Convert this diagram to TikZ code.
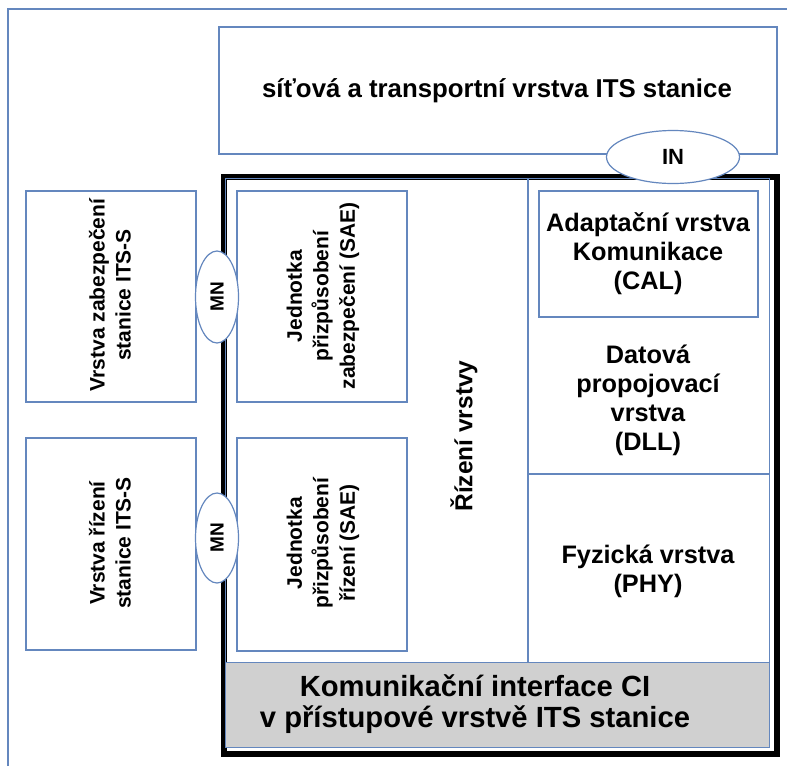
\documentclass[tikz,border=0pt]{standalone}
\usepackage{fontspec}
\setmainfont{Liberation Sans}
\usetikzlibrary{shapes.geometric}
\definecolor{lineblue}{RGB}{100,135,190}
\definecolor{bandgray}{RGB}{208,208,208}
\tikzset{
  box/.style={draw=lineblue, line width=1.2pt, fill=white, anchor=north west, inner sep=0pt, outer sep=0pt},
  txt/.style={align=center, inner sep=0pt},
  oval/.style={ellipse, draw=lineblue, line width=1.2pt, fill=white, inner sep=0pt},
}
\begin{document}
\begin{tikzpicture}[x=1pt,y=-1pt]
\useasboundingbox (0,0) rectangle (787,766);
% outer thin frame (cropped)
\coordinate (fa) at (8,766);
\coordinate (fb) at (8,9);
\coordinate (fc) at (787,9);
\draw[lineblue, line width=1.2pt] (fa) -- (fb) -- (fc);
% top box
\node[box, minimum width=558pt, minimum height=127pt] (top) at (219,27) {};
\node[txt, font=\bfseries\fontsize{25.8}{30}\selectfont] (toptxt) at (497,91) {síťová a transportní vrstva ITS stanice};
% thick frame
\node[draw=black, line width=6pt, anchor=north west, inner sep=0pt, minimum width=553pt, minimum height=576.5pt] (frame) at (221,174) {};
\node[draw=lineblue, line width=1.2pt, anchor=north west, inner sep=0pt, minimum width=544pt, minimum height=569pt] (inner) at (225,178) {};
% gray band
\node[draw=lineblue, line width=1.2pt, fill=bandgray, anchor=north west, inner sep=0pt, minimum width=544pt, minimum height=85pt] (band) at (225,662) {};
\node[txt, font=\bfseries\fontsize{29.2}{31}\selectfont] (bandtxt) at (475,704) {Komunikační interface CI\\v přístupové vrstvě ITS stanice};
% dividers
\coordinate (dvt) at (528,178);
\coordinate (dvb) at (528,662);
\draw[lineblue, line width=1.2pt] (dvt) -- (dvb);
\coordinate (hdl) at (528,474);
\coordinate (hdr) at (769,474);
\draw[lineblue, line width=1.2pt] (hdl) -- (hdr);
% CAL box
\node[box, minimum width=219pt, minimum height=126pt] (cal) at (539,191) {};
\node[txt, font=\bfseries\fontsize{25.3}{29}\selectfont] (caltxt) at (648,254) {Adaptační vrstva\\Komunikace\\(CAL)};
\node[txt, font=\bfseries\fontsize{25.3}{29}\selectfont] (dll) at (648,400) {Datová\\propojovací\\vrstva\\(DLL)};
\node[txt, font=\bfseries\fontsize{25.3}{29}\selectfont] (phy) at (648,571) {Fyzická vrstva\\(PHY)};
% SAE boxes
\node[box, minimum width=170pt, minimum height=211pt] (sae1) at (237,191) {};
\node[txt, font=\bfseries\fontsize{21}{26.5}\selectfont, rotate=90] (sae1txt) at (323,296) {Jednotka\\přizpůsobení\\zabezpečení (SAE)};
\node[box, minimum width=170pt, minimum height=213pt] (sae2) at (237,438) {};
\node[txt, font=\bfseries\fontsize{21}{26.5}\selectfont, rotate=90] (sae2txt) at (323,543) {Jednotka\\přizpůsobení\\řízení (SAE)};
% control text
\node[txt, font=\bfseries\fontsize{24.5}{29}\selectfont, rotate=90] (rizeni) at (464,436) {Řízení vrstvy};
% left boxes
\node[box, minimum width=170pt, minimum height=211pt] (sec) at (26,191) {};
\node[txt, font=\bfseries\fontsize{21}{26}\selectfont, rotate=90] (sectxt) at (110,295) {Vrstva zabezpečení\\stanice ITS-S};
\node[box, minimum width=170pt, minimum height=212pt] (mgmt) at (26,438) {};
\node[txt, font=\bfseries\fontsize{21}{26}\selectfont, rotate=90] (mgmttxt) at (110,543) {Vrstva řízení\\stanice ITS-S};
% interface ellipses
\node[oval, minimum width=133pt, minimum height=53pt, font=\bfseries\fontsize{22}{25}\selectfont] (in) at (673,157) {IN};
\node[oval, minimum width=43pt, minimum height=92pt] (mn1) at (217,297) {};
\node[txt, font=\bfseries\fontsize{19}{22}\selectfont, rotate=90] (mn1txt) at (mn1) {MN};
\node[oval, minimum width=43pt, minimum height=90pt] (mn2) at (217,538) {};
\node[txt, font=\bfseries\fontsize{19}{22}\selectfont, rotate=90] (mn2txt) at (mn2) {MN};
\end{tikzpicture}
\end{document}
